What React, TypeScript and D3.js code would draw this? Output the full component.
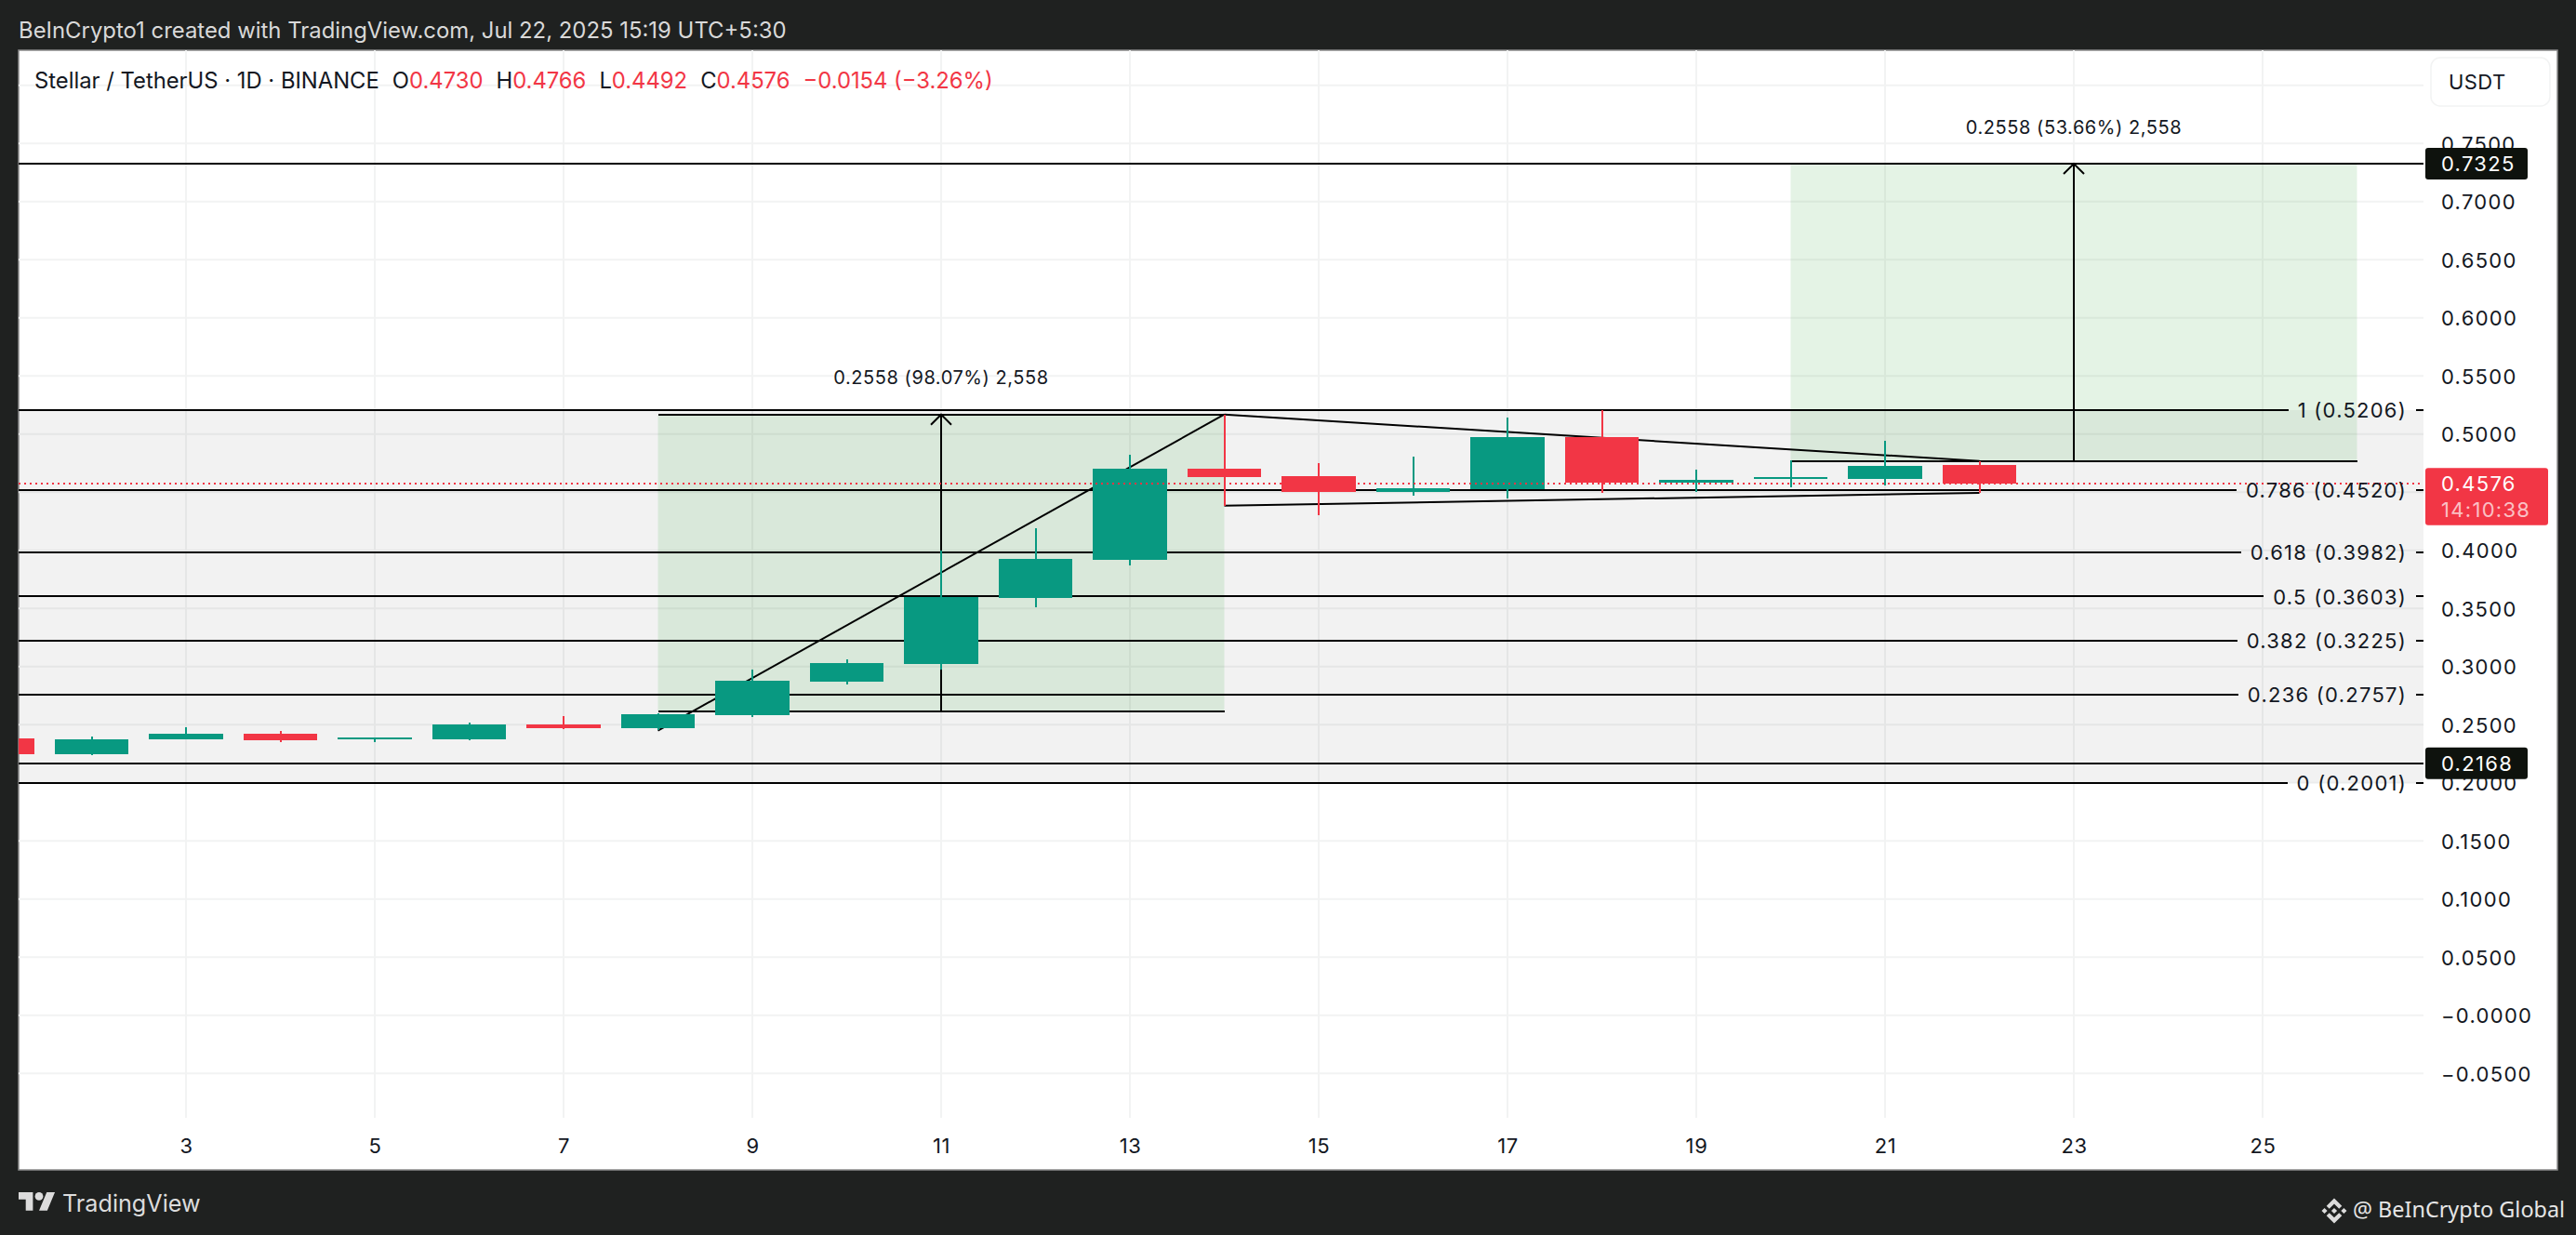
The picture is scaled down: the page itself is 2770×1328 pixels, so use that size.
import React, { useEffect, useRef } from "react";
import * as d3 from "d3";

const days = [1, 2, 3, 4, 5, 6, 7, 8, 9, 10, 11, 12, 13, 14, 15, 16, 17, 18, 19, 20, 21, 22];
const opens = [0.238, 0.2246, 0.2374, 0.2422, 0.2374, 0.2374, 0.2502, 0.247, 0.2582, 0.287, 0.3022, 0.3592, 0.3918, 0.4702, 0.4638, 0.4502, 0.4526, 0.4974, 0.4582, 0.4614, 0.4614, 0.473];
const highs = [0.24, 0.2398, 0.2478, 0.2446, 0.239, 0.2518, 0.2574, 0.2598, 0.2974, 0.3062, 0.3995, 0.419, 0.4822, 0.5168, 0.475, 0.4806, 0.5142, 0.5206, 0.4694, 0.4774, 0.4942, 0.4766];
const lows = [0.222, 0.2238, 0.2374, 0.235, 0.235, 0.2366, 0.2462, 0.2454, 0.2568, 0.2846, 0.2974, 0.351, 0.387, 0.4382, 0.4302, 0.447, 0.4446, 0.4494, 0.4502, 0.4542, 0.4558, 0.4492];
const closes = [0.2246, 0.2374, 0.2422, 0.2366, 0.239, 0.2502, 0.247, 0.259, 0.2878, 0.303, 0.36, 0.3926, 0.4702, 0.463, 0.4502, 0.4534, 0.4974, 0.4582, 0.4606, 0.463, 0.4726, 0.4576];

const xTicks = [3, 5, 7, 9, 11, 13, 15, 17, 19, 21, 23, 25];
// 0.45 has a grid line but its label sits behind the last price tag
const yTicks = [0.75, 0.7, 0.65, 0.6, 0.55, 0.5, 0.4, 0.35, 0.3, 0.25, 0.2, 0.15, 0.1, 0.05, 0, -0.05];
const yGrid = [0.8, 0.45, ...yTicks];

const fibRatios = ["1", "0.786", "0.618", "0.5", "0.382", "0.236", "0"];
const fibPrices = [0.5206, 0.452, 0.3982, 0.3603, 0.3225, 0.2757, 0.2001];
const hLines = [0.7325, 0.2168];

// long position boxes: [start day, end day, top, bottom]
const priceBoxes = [
  [8, 14, 0.5168, 0.261],
  [20, 26, 0.7325, 0.4767],
];
const boxLabels = ["0.2558 (98.07%) 2,558", "0.2558 (53.66%) 2,558"];

// hand drawn triangle
const trendLines = [
  [[8, 0.2448], [14, 0.5168]],
  [[14, 0.5168], [22, 0.4767]],
  [[14, 0.4384], [22, 0.4494]],
];

const lastPrice = 0.4576;
const countdown = "14:10:38";

const legend = [
  { text: "Stellar / TetherUS · 1D · BINANCE", color: "#131722", gap: 0 },
  { text: "O", color: "#131722", gap: 14 },
  { text: "0.4730", color: "#f23645", gap: 0 },
  { text: "H", color: "#131722", gap: 14 },
  { text: "0.4766", color: "#f23645", gap: 0 },
  { text: "L", color: "#131722", gap: 14 },
  { text: "0.4492", color: "#f23645", gap: 0 },
  { text: "C", color: "#131722", gap: 14 },
  { text: "0.4576", color: "#f23645", gap: 0 },
  { text: "−0.0154 (−3.26%)", color: "#f23645", gap: 14 },
];

const GREEN = "#089981";
const RED = "#f23645";
const INK = "#131722";
const UI_FONT = "Inter, 'Noto Sans', sans-serif";

const width = 2770;
const height = 1328;
const panel = { left: 20, top: 54, right: 2750, bottom: 1258 };
const plot = { left: 20, top: 54, right: 2606, bottom: 1202 };

const App: React.FC = () => {
  const svgRef = useRef<SVGSVGElement>(null);

  useEffect(() => {
    if (!svgRef.current) return;
    const svg = d3.select(svgRef.current);
    svg.selectAll("*").remove();

    const x = d3.scaleLinear().domain([3, 25]).range([200, 2433]);
    const y = d3.scaleLinear().domain([-0.05, 0.8]).range([1154.2, 91.7]);
    const candleWidth = (x(1) - x(0)) * 0.784;
    const plotWidth = plot.right - plot.left;

    svg.append("rect").attr("width", width).attr("height", height).attr("fill", "#1f2120");
    svg.append("rect")
      .attr("x", panel.left)
      .attr("y", panel.top)
      .attr("width", panel.right - panel.left)
      .attr("height", panel.bottom - panel.top)
      .attr("fill", "#ffffff")
      .attr("stroke", "#8a8a8a")
      .attr("stroke-width", 1.5);

    svg.append("clipPath").attr("id", "plot-clip")
      .append("rect")
      .attr("x", plot.left)
      .attr("y", plot.top)
      .attr("width", plotWidth)
      .attr("height", plot.bottom - plot.top);

    const g = svg.append("g").attr("clip-path", "url(#plot-clip)");

    // grid
    g.append("g").selectAll("line").data(yGrid).join("line")
      .attr("x1", plot.left)
      .attr("x2", plot.right)
      .attr("y1", d => y(d))
      .attr("y2", d => y(d))
      .attr("stroke", "#f2f3f3")
      .attr("stroke-width", 2);
    g.append("g").selectAll("line").data(xTicks).join("line")
      .attr("x1", d => x(d))
      .attr("x2", d => x(d))
      .attr("y1", plot.top)
      .attr("y2", plot.bottom)
      .attr("stroke", "#f2f3f3")
      .attr("stroke-width", 2);

    // fib background
    g.append("rect")
      .attr("x", plot.left)
      .attr("y", y(fibPrices[0]))
      .attr("width", plotWidth)
      .attr("height", y(fibPrices[fibPrices.length - 1]) - y(fibPrices[0]))
      .attr("fill", "rgba(0,0,0,0.05)");

    // green boxes with arrow
    priceBoxes.forEach(([d0, d1, top, bottom], i) => {
      const mid = (d0 + d1) / 2;
      const box = g.append("g");
      box.append("rect")
        .attr("x", x(d0))
        .attr("y", y(top))
        .attr("width", x(d1) - x(d0))
        .attr("height", y(bottom) - y(top))
        .attr("fill", "rgba(76,175,80,0.15)");
      [top, bottom].forEach(p => {
        box.append("line")
          .attr("x1", x(d0))
          .attr("x2", x(d1))
          .attr("y1", y(p))
          .attr("y2", y(p))
          .attr("stroke", "#000")
          .attr("stroke-width", 2)
          .attr("shape-rendering", "crispEdges");
      });
      box.append("line")
        .attr("x1", x(mid))
        .attr("x2", x(mid))
        .attr("y1", y(bottom))
        .attr("y2", y(top))
        .attr("stroke", "#000")
        .attr("stroke-width", 2);
      box.append("path")
        .attr("d", d3.line()([[x(mid) - 11, y(top) + 11], [x(mid), y(top)], [x(mid) + 11, y(top) + 11]]))
        .attr("fill", "none")
        .attr("stroke", "#000")
        .attr("stroke-width", 2);
      svg.append("text")
        .attr("x", x(mid))
        .attr("y", y(top) - 39.5)
        .attr("dy", "0.36em")
        .attr("text-anchor", "middle")
        .attr("font-family", UI_FONT)
        .attr("font-size", 20)
        .attr("letter-spacing", 0.55)
        .attr("fill", INK)
        .text(boxLabels[i]);
    });

    // horizontal price lines
    g.append("g").selectAll("line").data(hLines).join("line")
      .attr("x1", plot.left)
      .attr("x2", plot.right)
      .attr("y1", d => y(d))
      .attr("y2", d => y(d))
      .attr("stroke", "#000")
      .attr("stroke-width", 2)
      .attr("shape-rendering", "crispEdges");

    // fib levels, the line is broken around its label
    const labelEnd = 2588;
    fibPrices.forEach((price, i) => {
      const label = svg.append("text")
        .attr("x", labelEnd)
        .attr("y", y(price))
        .attr("dy", "0.38em")
        .attr("text-anchor", "end")
        .attr("font-family", UI_FONT)
        .attr("font-size", 22)
        .attr("letter-spacing", 1.25)
        .attr("fill", INK)
        .text(`${fibRatios[i]} (${price.toFixed(4)})`);
      const textWidth = (label.node() as SVGTextElement).getComputedTextLength();
      [[plot.left, labelEnd - textWidth - 10], [labelEnd + 10, plot.right]].forEach(([a, b]) => {
        g.append("line")
          .attr("x1", a)
          .attr("x2", b)
          .attr("y1", y(price))
          .attr("y2", y(price))
          .attr("stroke", "#000")
          .attr("stroke-width", 2)
          .attr("shape-rendering", "crispEdges");
      });
    });

    // triangle
    const trend = d3.line<number[]>().x(d => x(d[0])).y(d => y(d[1]));
    g.append("g").selectAll("path").data(trendLines).join("path")
      .attr("d", d => trend(d))
      .attr("fill", "none")
      .attr("stroke", "#000")
      .attr("stroke-width", 2);

    // candles
    const candles = g.append("g").selectAll("g").data(days).join("g");
    const candleColor = (i: number) => (closes[i] >= opens[i] ? GREEN : RED);
    candles.append("line")
      .attr("x1", d => x(d))
      .attr("x2", d => x(d))
      .attr("y1", (d, i) => y(highs[i]))
      .attr("y2", (d, i) => y(lows[i]))
      .attr("stroke", (d, i) => candleColor(i))
      .attr("stroke-width", 2)
      .attr("shape-rendering", "crispEdges");
    candles.append("rect")
      .attr("x", d => x(d) - candleWidth / 2)
      .attr("y", (d, i) => y(Math.max(opens[i], closes[i])))
      .attr("width", candleWidth)
      .attr("height", (d, i) => Math.abs(y(opens[i]) - y(closes[i])))
      .attr("fill", (d, i) => candleColor(i))
      .attr("shape-rendering", "crispEdges");

    // last price line
    g.append("line")
      .attr("x1", plot.left)
      .attr("x2", plot.right)
      .attr("y1", y(lastPrice))
      .attr("y2", y(lastPrice))
      .attr("stroke", RED)
      .attr("stroke-width", 2)
      .attr("stroke-dasharray", "2 4")
      .attr("shape-rendering", "crispEdges");

    // axes
    const yAxis = svg.append("g")
      .attr("transform", `translate(${plot.right},0)`)
      .call(d3.axisRight(y)
        .tickValues(yTicks)
        .tickSize(0)
        .tickPadding(19)
        .tickFormat(d => ((d as number) <= 0 ? "\u2212" : "") + Math.abs(d as number).toFixed(4)));
    yAxis.select(".domain").remove();
    yAxis.selectAll("text")
      .attr("dy", "0.36em")
      .attr("font-family", UI_FONT)
      .attr("font-size", 22)
      .attr("letter-spacing", 1.3)
      .attr("fill", INK);

    const xAxis = svg.append("g")
      .attr("transform", `translate(0,${plot.bottom})`)
      .call(d3.axisBottom(x).tickValues(xTicks).tickSize(0).tickPadding(22).tickFormat(d3.format("d")));
    xAxis.select(".domain").remove();
    xAxis.selectAll("text")
      .attr("font-family", UI_FONT)
      .attr("font-size", 22)
      .attr("letter-spacing", 0.6)
      .attr("fill", INK);

    // price tags
    const tagText = (py: number, text: string, fill: string) =>
      svg.append("text")
        .attr("x", 2625)
        .attr("y", py)
        .attr("dy", "0.36em")
        .attr("font-family", UI_FONT)
        .attr("font-size", 22)
        .attr("letter-spacing", 1.3)
        .attr("fill", fill)
        .text(text);
    hLines.forEach(p => {
      svg.append("rect")
        .attr("x", plot.right + 2)
        .attr("y", y(p) - 17)
        .attr("width", 110)
        .attr("height", 34)
        .attr("rx", 3)
        .attr("fill", "#0e120d");
      tagText(y(p), p.toFixed(4), "#ffffff");
    });
    svg.append("rect")
      .attr("x", plot.right + 2)
      .attr("y", y(lastPrice) - 16.5)
      .attr("width", 132)
      .attr("height", 61.5)
      .attr("rx", 3)
      .attr("fill", RED);
    tagText(y(lastPrice), lastPrice.toFixed(4), "#ffffff");
    tagText(y(lastPrice) + 28, countdown, "rgba(255,255,255,0.7)");

    // USDT button
    svg.append("rect")
      .attr("x", 2614)
      .attr("y", 62)
      .attr("width", 128)
      .attr("height", 52)
      .attr("rx", 10)
      .attr("fill", "#fff")
      .attr("stroke", "#f2f3f3")
      .attr("stroke-width", 1.5);
    svg.append("text")
      .attr("x", 2633)
      .attr("y", 88)
      .attr("dy", "0.36em")
      .attr("font-family", UI_FONT)
      .attr("font-size", 22)
      .attr("letter-spacing", 0.4)
      .attr("fill", INK)
      .text("USDT");

    // header
    svg.append("text")
      .attr("x", 20)
      .attr("y", 32)
      .attr("dy", "0.36em")
      .attr("font-family", UI_FONT)
      .attr("font-size", 23.9)
      .attr("fill", "#d9d9d9")
      .text("BeInCrypto1 created with TradingView.com, Jul 22, 2025 15:19 UTC+5:30");

    svg.append("text")
      .attr("x", 37)
      .attr("y", 86)
      .attr("dy", "0.36em")
      .attr("font-family", UI_FONT)
      .attr("font-size", 23.8)
      .selectAll("tspan")
      .data(legend)
      .join("tspan")
      .attr("dx", d => d.gap)
      .attr("fill", d => d.color)
      .text(d => d.text);

    // footer
    svg.append("g")
      .attr("transform", "translate(20,1277.6) scale(1.1)")
      .attr("fill", "#dcdcdc")
      .call(s => {
        s.append("path").attr("d", "M14 22H7V11H0V4h14v18zM28 22h-8l7.5-18h8L28 22z");
        s.append("circle").attr("cx", 20).attr("cy", 8).attr("r", 4);
      });
    svg.append("text")
      .attr("x", 67)
      .attr("y", 1294)
      .attr("dy", "0.36em")
      .attr("font-family", UI_FONT)
      .attr("font-size", 25.2)
      .attr("fill", "#dcdcdc")
      .text("TradingView");

    svg.append("path")
      .attr("transform", "translate(2496.5,1288.5) scale(0.213)")
      .attr("fill", "#dcdcdc")
      .attr("d", "M38.73 53.2l24.59-24.58 24.6 24.6 14.3-14.31L63.32 0 24.42 38.9 38.73 53.2zM0 63.31l14.3-14.31 14.31 14.31-14.31 14.3zM38.73 73.41l24.59 24.59 24.6-24.6 14.31 14.29-38.9 38.91-38.91-38.88-.02-.02 14.33-14.29zM98 63.31l14.3-14.31 14.31 14.3-14.31 14.32zM77.83 63.3L63.32 48.78 52.59 59.51l-1.24 1.23-2.54 2.54 14.51 14.5 14.51-14.47z");
    svg.append("text")
      .attr("x", 2530)
      .attr("y", 1301)
      .attr("dy", "0.36em")
      .attr("font-family", "'Noto Sans', sans-serif")
      .attr("font-size", 23.4)
      .attr("fill", "#e6e6e6")
      .text("@ BeInCrypto Global");
  }, []);

  return (
    <svg
      ref={svgRef}
      width={width}
      height={height}
      viewBox={`0 0 ${width} ${height}`}
      style={{ position: "absolute", left: 0, top: 0, display: "block" }}
    />
  );
};

export default App;
